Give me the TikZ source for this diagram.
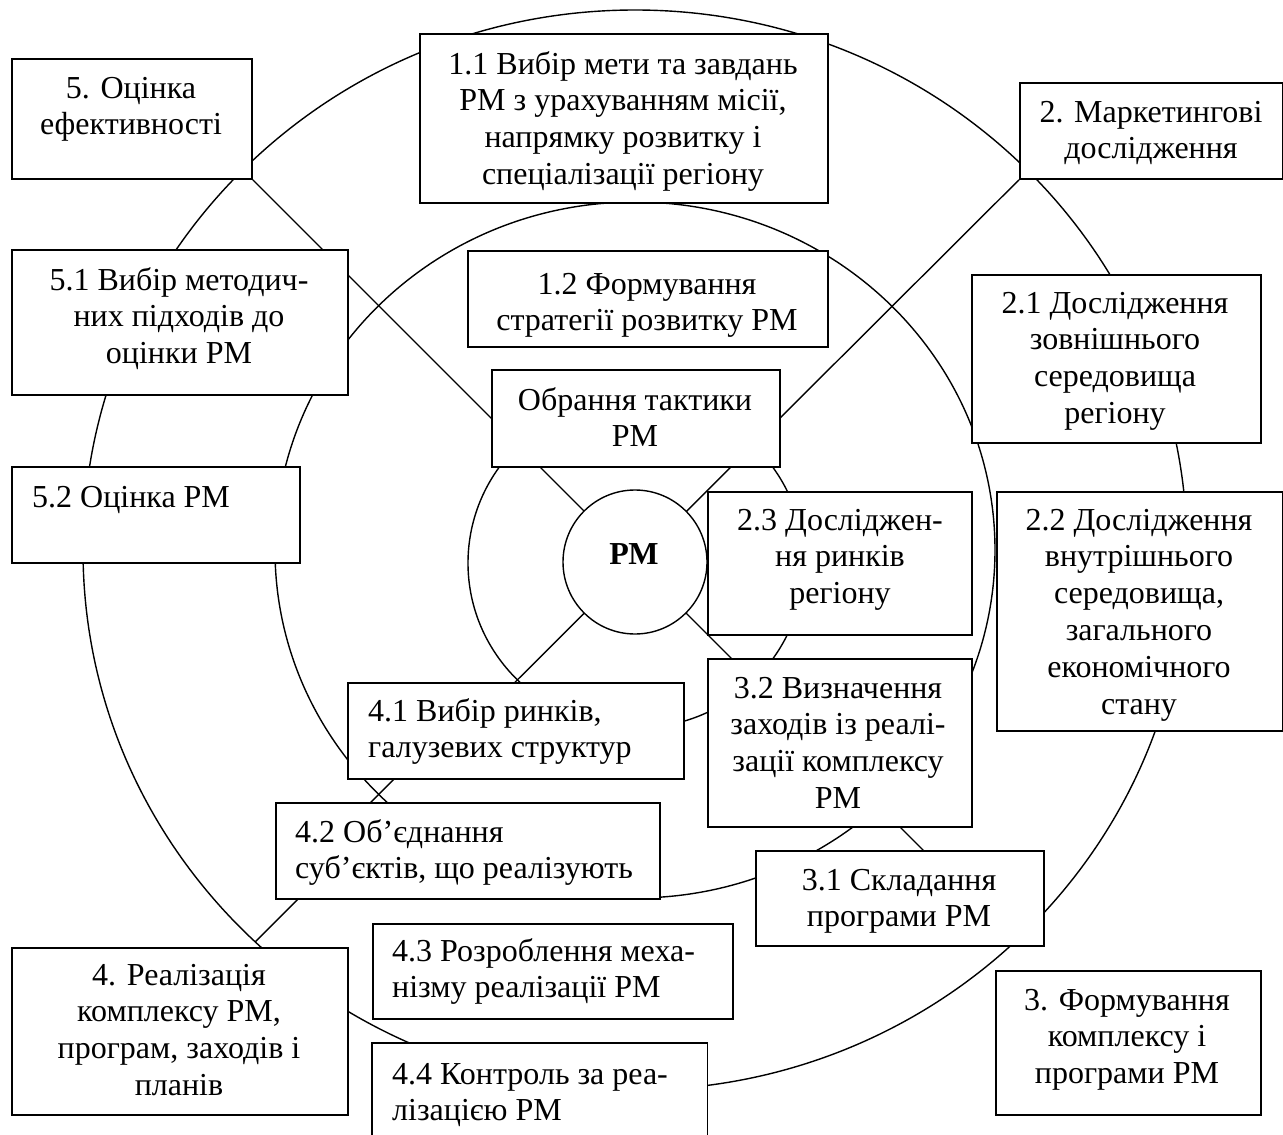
\documentclass[tikz,border=0pt]{standalone}
\usepackage{fontspec}
\setmainfont{Liberation Serif}
\pgfdeclarelayer{bg}
\pgfsetlayers{bg,main}
\begin{document}
\begin{tikzpicture}[x=1pt,y=-1pt,
  curve/.style={line width=1.4pt},
  box/.style={draw, fill=white, line width=1.8pt, rectangle, inner sep=0pt, anchor=north west},
  openbox/.style={fill=white, rectangle, inner sep=0pt, anchor=north west},
  txt/.style={font=\fontsize{32}{36.8}\selectfont, inner sep=0pt, align=center, anchor=north},
  txtl/.style={txt, align=left, anchor=north west}]
\useasboundingbox (0,0) rectangle (1283,1135);

% boxes
\node[box, minimum width=240pt, minimum height=120pt] (b5) at (11,58) {};
\node[box, minimum width=408pt, minimum height=169pt] (b11) at (419,33) {};
\node[box, minimum width=263pt, minimum height=96pt] (b2) at (1019,82) {};
\node[box, minimum width=360pt, minimum height=96pt] (b12) at (467,250) {};
\node[box, minimum width=336pt, minimum height=145pt] (b51) at (11,249) {};
\node[box, minimum width=289pt, minimum height=168pt] (b21) at (971,274) {};
\node[box, minimum width=288pt, minimum height=97pt] (bt) at (491,369) {};
\node[box, minimum width=288pt, minimum height=96pt] (b52) at (11,466) {};
\node[box, minimum width=264pt, minimum height=143pt] (b23) at (707,491) {};
\node[box, minimum width=286pt, minimum height=239pt] (b22) at (996,491) {};
\node[box, minimum width=264pt, minimum height=168pt] (b32) at (707,658) {};
\node[box, minimum width=336pt, minimum height=96pt] (b41) at (347,682) {};
\node[box, minimum width=384pt, minimum height=96pt] (b42) at (275,802) {};
\node[box, minimum width=288pt, minimum height=95pt] (b31) at (755,850) {};
\node[box, minimum width=360pt, minimum height=95pt] (b43) at (372,923) {};
\node[box, minimum width=336pt, minimum height=167pt] (b4) at (11,947) {};
\node[box, minimum width=265pt, minimum height=144pt] (b3) at (995,970) {};
\node[openbox, minimum width=335pt, minimum height=92pt] (b44) at (372,1043) {};
\draw[line width=1.8pt] (b44.south west) -- (b44.north west) -- (b44.north east) -- (b44.south east);

% centre circle
\node[circle, draw, fill=white, line width=1.4pt, minimum size=144pt, inner sep=0pt] (pm) at (635,562) {};
\node[font=\fontsize{32}{36.8}\selectfont\bfseries, inner sep=0pt, anchor=base] (tpm) at (634,564) {РМ};

% texts
\node[txt] (t5) at (131,72.2) {\strut 5. Оцінка\\ефективності};
\node[txt] (t11) at (623,48.2) {\strut 1.1 Вибір мети та завдань\\РМ з урахуванням місії,\\напрямку розвитку і\\спеціалізації регіону};
\node[txt] (t2) at (1151,96.2) {\strut 2. Маркетингові\\дослідження};
\node[txt] (t12) at (647,268.2) {\strut 1.2 Формування\\стратегії розвитку РМ};
\node[txt] (t51) at (179,264.2) {\strut 5.1 Вибір методич-\\них підходів до\\оцінки РМ};
\node[txt] (t21) at (1115,287.2) {\strut 2.1 Дослідження\\зовнішнього\\середовища\\регіону};
\node[txt] (tt) at (635,384.2) {\strut Обрання тактики\\РМ};
\node[txtl] (t52) at (32,481.2) {\strut 5.2 Оцінка РМ};
\node[txt] (t23) at (840,504.2) {\strut 2.3 Досліджен-\\ня ринків\\регіону};
\node[txt] (t22) at (1139,504.2) {\strut 2.2 Дослідження\\внутрішнього\\середовища,\\загального\\економічного\\стану};
\node[txt] (t32) at (838,672.2) {\strut 3.2 Визначення\\заходів із реалі-\\зації комплексу\\РМ};
\node[txtl] (t41) at (368,695.2) {\strut 4.1 Вибір ринків,\\галузевих структур};
\node[txtl] (t42) at (295,816.2) {\strut 4.2 Об’єднання\\суб’єктів, що реалізують};
\node[txt] (t31) at (899,864.2) {\strut 3.1 Складання\\програми РМ};
\node[txtl] (t43) at (392,935.2) {\strut 4.3 Розроблення меха-\\нізму реалізації РМ};
\node[txt] (t4) at (179,959.2) {\strut 4. Реалізація\\комплексу РМ,\\програм, заходів і\\планів};
\node[txt] (t3) at (1127,984.2) {\strut 3. Формування\\комплексу і\\програми РМ};
\node[txtl] (t44) at (392,1058.2) {\strut 4.4 Контроль за реа-\\лізацією РМ};

% free ends of the diagonals (hidden under boxes)
\coordinate (d1e) at (940,867);
\coordinate (d2e) at (440,757);
\coordinate (d2s2) at (420,753);
\coordinate (d2e2) at (360,813);
\coordinate (d2s3) at (340,857);
\coordinate (d2e3) at (255,942);

\begin{pgfonlayer}{bg}
  \draw[curve] (635,550) ellipse [x radius=552pt, y radius=540pt];
  \draw[curve] (635,550) ellipse [x radius=360pt, y radius=348pt];
  \draw[curve] (636,563) ellipse [x radius=168pt, y radius=165pt];
  \draw[curve] (b5.south east) -- (d1e);
  \draw[curve] (b2.south west) -- (d2e);
  \draw[curve] (d2s2) -- (d2e2);
  \draw[curve] (d2s3) -- (d2e3);
\end{pgfonlayer}
\end{tikzpicture}
\end{document}
